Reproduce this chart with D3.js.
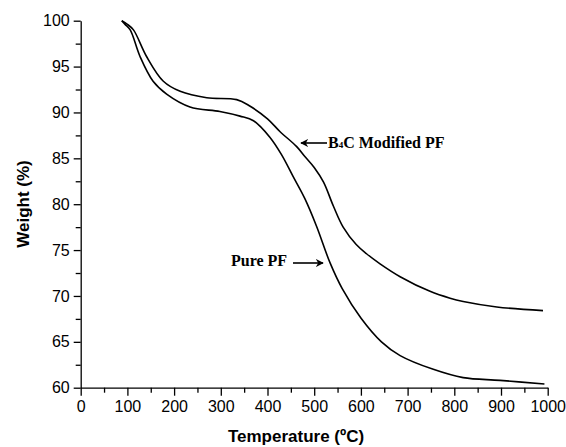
<!DOCTYPE html>
<meta charset="utf-8">
<style>
body { margin: 0; background: #fff; }
.axis text { font: 16px Arial, "Liberation Sans", sans-serif; fill: #000; }
.axis path, .axis line { stroke: #000; stroke-width: 1.3px; fill: none; }
.curve { fill: none; stroke: #000; stroke-width: 1.6px; }
.title { font: bold 17px Arial, "Liberation Sans", sans-serif; fill: #000; }
.note { font: bold 16px "Times New Roman", "Liberation Serif", serif; fill: #000; }
</style>
<body>
<script src="https://cdn.jsdelivr.net/npm/d3@7"></script>
<script>
// temperature (C) / weight (%)
var pureT = [88, 95, 106, 127, 155, 184, 234, 298, 341, 370, 405, 430, 455, 480, 505, 534, 560, 600, 644, 684, 755, 819, 898, 993];
var pureW = [100, 99.6, 99.0, 96.1, 93.4, 92.0, 90.6, 90.1, 89.6, 89.1, 87.3, 85.4, 83.0, 80.6, 77.6, 73.6, 70.8, 67.6, 65.0, 63.5, 62.0, 61.1, 60.8, 60.4];
var b4cT = [88, 100, 113, 141, 177, 213, 270, 334, 362, 400, 427, 462, 480, 500, 520, 541, 562, 590, 612, 641, 684, 748, 791, 819, 891, 990];
var b4cW = [100, 99.6, 99.0, 96.1, 93.4, 92.3, 91.6, 91.4, 90.7, 89.3, 87.9, 86.3, 85.2, 84.0, 82.4, 79.8, 77.5, 75.6, 74.6, 73.5, 72.1, 70.5, 69.75, 69.4, 68.8, 68.4];
var xTicks = [0, 100, 200, 300, 400, 500, 600, 700, 800, 900, 1000];
var yTicks = [60, 65, 70, 75, 80, 85, 90, 95, 100];

var svg = d3.select("body").append("svg")
    .attr("width", 566)
    .attr("height", 447);

var x = d3.scaleLinear().domain([0, 1000]).range([80.7, 547.7]);
var y = d3.scaleLinear().domain([60, 100]).range([387.7, 20.7]);

// minor ticks first
svg.append("g").attr("class", "axis")
    .attr("transform", "translate(0," + y(60) + ")")
    .call(d3.axisBottom(x).tickValues(d3.range(50, 1000, 100)).tickSize(5).tickFormat(""))
    .select(".domain").remove();
svg.append("g").attr("class", "axis")
    .attr("transform", "translate(" + x(0) + ",0)")
    .call(d3.axisLeft(y).tickValues(d3.range(62.5, 100, 5)).tickSize(5).tickFormat(""))
    .select(".domain").remove();

svg.append("g").attr("class", "axis")
    .attr("transform", "translate(0," + y(60) + ")")
    .call(d3.axisBottom(x).tickValues(xTicks).tickFormat(d3.format("d"))
        .tickSize(8).tickSizeOuter(0).tickPadding(5));
svg.append("g").attr("class", "axis")
    .attr("transform", "translate(" + x(0) + ",0)")
    .call(d3.axisLeft(y).tickValues(yTicks).tickSize(7).tickSizeOuter(0).tickPadding(4));

var line = d3.line()
    .x(function(d) { return x(d[0]); })
    .y(function(d) { return y(d[1]); })
    .curve(d3.curveCatmullRom.alpha(0.5));

svg.append("path").attr("class", "curve")
    .attr("d", line(d3.zip(pureT, pureW)));
svg.append("path").attr("class", "curve")
    .attr("d", line(d3.zip(b4cT, b4cW)));

// axis titles
svg.append("text").attr("class", "title")
    .attr("x", 296).attr("y", 442)
    .attr("text-anchor", "middle")
    .text("Temperature (ºC)");
svg.append("text").attr("class", "title")
    .attr("transform", "translate(29,204) rotate(-90)")
    .attr("text-anchor", "middle")
    .text("Weight (%)");

// annotations with arrows
svg.append("defs").append("marker")
    .attr("id", "head")
    .attr("viewBox", "0 0 10 10")
    .attr("refX", 9).attr("refY", 5)
    .attr("markerWidth", 8).attr("markerHeight", 8)
    .attr("markerUnits", "userSpaceOnUse")
    .attr("orient", "auto")
  .append("path")
    .attr("d", "M0,0L10,5L0,10L3,5Z")
    .attr("fill", "#000");

var b4c = svg.append("text").attr("class", "note")
    .attr("x", 328).attr("y", 148);
b4c.append("tspan").text("B");
b4c.append("tspan").attr("font-size", "9px").text("4");
b4c.append("tspan").text("C Modified PF");

svg.append("line")
    .attr("x1", 327).attr("y1", 143).attr("x2", 301).attr("y2", 143)
    .attr("stroke", "#000").attr("stroke-width", 1.6)
    .attr("marker-end", "url(#head)");

svg.append("text").attr("class", "note")
    .attr("x", 231).attr("y", 266)
    .text("Pure PF");
svg.append("line")
    .attr("x1", 293).attr("y1", 263).attr("x2", 323).attr("y2", 263)
    .attr("stroke", "#000").attr("stroke-width", 1.6)
    .attr("marker-end", "url(#head)");
</script>
</body>
